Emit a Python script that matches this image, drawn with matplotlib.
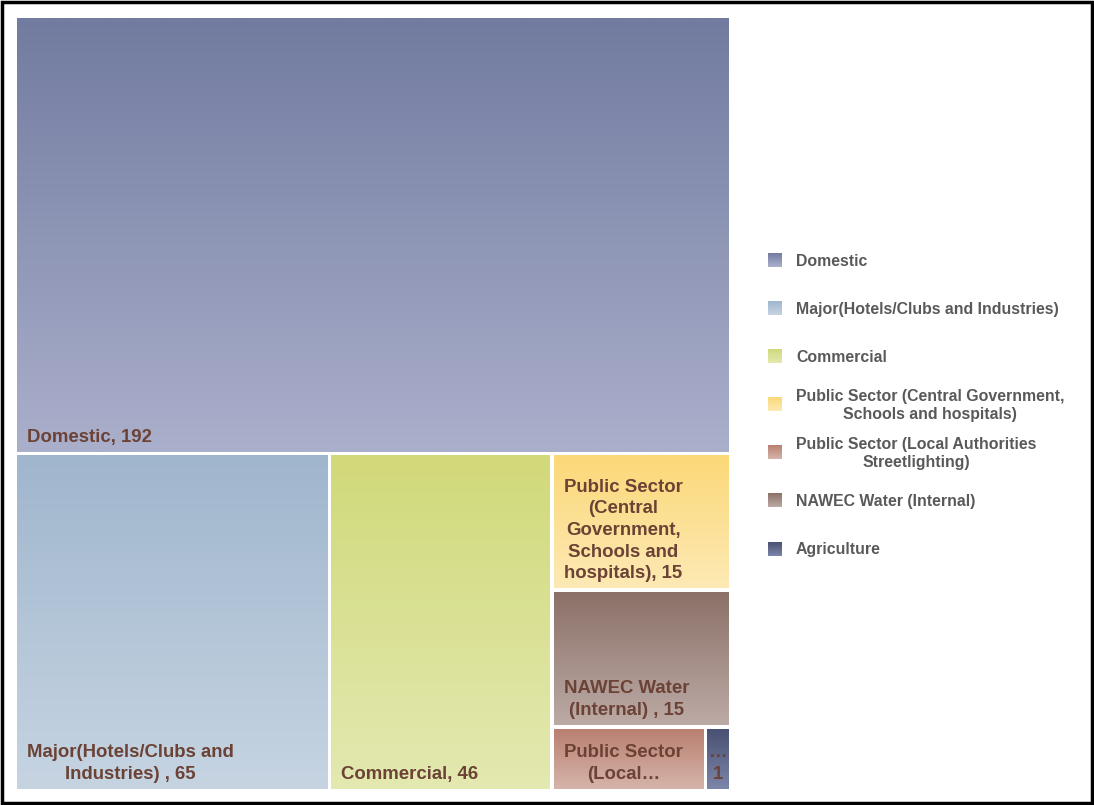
import matplotlib
matplotlib.use("Agg")
import matplotlib.pyplot as plt
import numpy as np
from matplotlib.patches import Rectangle
from matplotlib.colors import to_rgb

# ---- data ----
categories = ["Domestic", "Major(Hotels/Clubs and Industries)", "Commercial",
              "Public Sector (Central Government, Schools and hospitals)",
              "Public Sector (Local Authorities Streetlighting)",
              "NAWEC Water (Internal)", "Agriculture"]
values = [192, 65, 46, 15, 6, 15, 1]
tile_labels = ["Domestic, 192",
               "Major(Hotels/Clubs and\nIndustries) , 65",
               "Commercial, 46",
               "Public Sector\n(Central\nGovernment,\nSchools and\nhospitals), 15",
               "Public Sector\n(Local\u2026",
               "NAWEC Water\n(Internal) , 15",
               "\u2026\n1"]
legend_labels = ["Domestic", "Major(Hotels/Clubs and Industries)", "Commercial",
                 "Public Sector (Central Government,\nSchools and hospitals)",
                 "Public Sector (Local Authorities\nStreetlighting)",
                 "NAWEC Water (Internal)", "Agriculture"]
top_colors = ["#727ca0", "#a0b6cd", "#d1d97a", "#fbd878", "#b98070", "#8b7168", "#4a5172"]
bot_colors = ["#aaafcb", "#c6d4e2", "#e3e9b0", "#fde9b4", "#d6b4aa", "#bcaaa5", "#7c86aa"]

W, H = 1094, 805
fig = plt.figure(figsize=(W / 100, H / 100), dpi=100)
ax = fig.add_axes([0, 0, 1, 1])
ax.set_xlim(0, W)
ax.set_ylim(H, 0)
ax.axis("off")


def worst(row, w, scale):
    s = sum(row) * scale
    rmax = max(row) * scale
    rmin = min(row) * scale
    return max(w * w * rmax / (s * s), s * s / (w * w * rmin))


def squarify(items, x, y, dx, dy, out):
    # items: list of (index, value) sorted desc
    total = sum(v for _, v in items)
    if not items:
        return
    scale = dx * dy / total
    if len(items) == 1:
        out[items[0][0]] = (x, y, dx, dy)
        return
    w = min(dx, dy)
    row = [items[0][1]]
    i = 1
    while i < len(items):
        cand = row + [items[i][1]]
        if worst(cand, w, scale) <= worst(row, w, scale):
            row = cand
            i += 1
        else:
            break
    rs = sum(row) * scale
    if dx >= dy:  # vertical column at left
        cw = rs / dy
        cy = y
        for k in range(len(row)):
            h = row[k] * scale / cw
            out[items[k][0]] = (x, cy, cw, h)
            cy += h
        squarify(items[len(row):], x + cw, y, dx - cw, dy, out)
    else:  # horizontal row at top
        rh = rs / dx
        cx = x
        for k in range(len(row)):
            ww = row[k] * scale / rh
            out[items[k][0]] = (cx, y, ww, rh)
            cx += ww
        squarify(items[len(row):], x, y + rh, dx, dy - rh, out)


order = sorted(range(len(values)), key=lambda i: -values[i])
rects = {}
squarify([(i, values[i]) for i in order], 15, 16, 716, 775, rects)


def grad_img(c1, c2, n=128):
    a = np.array(to_rgb(c1))
    b = np.array(to_rgb(c2))
    t = np.linspace(0, 1, n)[:, None]
    return (a * (1 - t) + b * t)[:, None, :]


gap = 2
text_color = "#6b4235"
for i in range(len(values)):
    x, y, w, h = rects[i]
    x0, y0, x1, y1 = x + gap, y + gap, x + w - gap, y + h - gap
    ax.imshow(grad_img(top_colors[i], bot_colors[i]), extent=(x0, x1, y1, y0),
              aspect="auto", interpolation="bilinear", zorder=1)
    if w < 40:
        ax.text((x0 + x1) / 2, y1 - 6, tile_labels[i], ha="center", va="bottom",
                multialignment="center", fontsize=13.4, fontweight="bold",
                color=text_color, family="Liberation Sans", zorder=3,
                linespacing=1.36)
    else:
        ax.text(x0 + 10, y1 - 6, tile_labels[i], ha="left", va="bottom",
                multialignment="center", fontsize=13.4, fontweight="bold",
                color=text_color, family="Liberation Sans", zorder=3,
                linespacing=1.36)

# legend
ly0, lstep = 260, 48.1
for i, lab in enumerate(legend_labels):
    cy = ly0 + i * lstep
    ax.imshow(grad_img(top_colors[i], bot_colors[i]), extent=(768, 782, cy + 7, cy - 7),
              aspect="auto", interpolation="bilinear", zorder=1)
    ax.text(796, cy + 1, lab, ha="left", va="center", multialignment="center",
            fontsize=11.4, fontweight="bold", color="#595959",
            family="Liberation Sans", linespacing=1.2)

ax.set_xlim(0, W)
ax.set_ylim(H, 0)

# outer border
fig.patches.append(Rectangle((0.0015, 0.002), 0.997, 0.995, transform=fig.transFigure,
                             fill=False, edgecolor="black", linewidth=2.5))

fig.savefig("out.png", dpi=100, facecolor="white")
